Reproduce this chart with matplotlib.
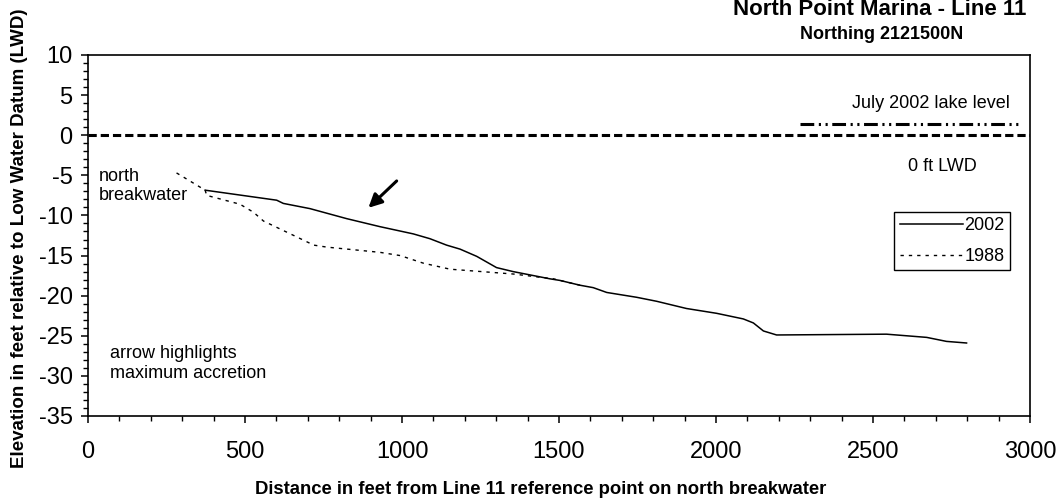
import numpy as np
import matplotlib
matplotlib.use('Agg')
import matplotlib.pyplot as plt
from matplotlib.ticker import MultipleLocator

plt.rcParams['font.family'] = ['Liberation Sans', 'DejaVu Sans']
plt.rcParams['axes.unicode_minus'] = False

# profile surveys (distance ft, elevation ft LWD)
dist_2002 = [373, 601, 622, 707, 824, 930, 1036, 1089, 1142, 1185, 1238, 1301, 1354,
             1471, 1503, 1567, 1609, 1652, 1747, 1811, 1906, 2002, 2087, 2119, 2151,
             2193, 2543, 2671, 2734, 2798]
elev_2002 = [-6.85, -8.1, -8.5, -9.15, -10.4, -11.4, -12.3, -12.9, -13.7, -14.2, -15.1,
             -16.5, -17.0, -17.9, -18.1, -18.7, -19.0, -19.6, -20.2, -20.7, -21.6, -22.2,
             -22.9, -23.4, -24.4, -24.9, -24.8, -25.2, -25.7, -25.9]

dist_1988 = [282, 373, 378, 484, 527, 559, 666, 719, 761, 930, 994, 1068, 1153, 1354,
             1482, 1567]
elev_1988 = [-4.7, -6.85, -7.5, -8.6, -9.6, -10.7, -12.7, -13.7, -13.95, -14.6, -15.0,
             -15.95, -16.7, -17.3, -17.9, -18.7]

lake_level_x = [2268, 2968]
lake_level_y = [1.4, 1.4]
lwd_x = [0, 3000]
lwd_y = [0, 0]

arrow_tail = (983, -5.7)
arrow_tip = (893, -9.05)

fig = plt.figure(figsize=(10.63, 4.98), dpi=100)
ax = fig.add_axes([88/1063, 1-416/498, 942/1063, 361/498])

ax.plot(lwd_x, lwd_y, color='black', lw=2.2, dashes=(2.7, 1.3))
ax.plot(lake_level_x, lake_level_y, color='black', lw=2.2,
        dashes=(4.5, 1.5, 0.7, 1.5, 0.7, 1.5))
ax.plot(dist_2002, elev_2002, color='black', lw=1.1, label='2002')
ax.plot(dist_1988, elev_1988, color='black', lw=1.0, dashes=(2.4, 3.6), label='1988')

ax.annotate('', xy=arrow_tip, xytext=arrow_tail,
            arrowprops=dict(arrowstyle='-|>,head_length=0.8,head_width=0.4',
                            color='black', lw=2.2, shrinkA=0, shrinkB=0))

ax.set_xlim(0, 3000)
ax.set_ylim(-35, 10)
ax.xaxis.set_major_locator(MultipleLocator(500))
ax.xaxis.set_minor_locator(MultipleLocator(100))
ax.yaxis.set_major_locator(MultipleLocator(5))
ax.yaxis.set_minor_locator(MultipleLocator(1))
ax.tick_params(which='major', length=5, width=1.1, labelsize=17, direction='out')
ax.tick_params(which='minor', length=3.5, width=1.0, direction='out')
ax.tick_params(axis='x', which='major', pad=13)
ax.tick_params(axis='y', which='major', pad=6)
for s in ax.spines.values():
    s.set_linewidth(1.2)

ax.text(35, -6.3, 'north\nbreakwater', fontsize=13, ha='left', va='center',
        linespacing=1.15)
ax.text(70, -28.5, 'arrow highlights\nmaximum accretion', fontsize=13, ha='left',
        va='center', linespacing=1.25)
ax.text(2936, 3.9, 'July 2002 lake level', fontsize=13, ha='right', va='center')
ax.text(2720, -3.9, '0 ft LWD', fontsize=13, ha='center', va='center')

leg = ax.legend(loc='upper right', bbox_to_anchor=(0.979, 0.565), borderaxespad=0,
                fontsize=13, handlelength=3.5, handletextpad=0.1, borderpad=0.3,
                labelspacing=0.75, fancybox=False, framealpha=1, edgecolor='black')
leg.get_frame().set_linewidth(1.0)

fig.text(880/1063, 1-15/498, 'North Point Marina - Line 11', fontsize=16,
         fontweight='bold', ha='center', va='baseline')
fig.text(882/1063, 1-39/498, 'Northing 2121500N', fontsize=13,
         fontweight='bold', ha='center', va='baseline')
fig.text(541/1063, 1-489/498,
         'Distance in feet from Line 11 reference point on north breakwater',
         fontsize=13.3, fontweight='bold', ha='center', va='center')
fig.text(20/1063, 1-238/498,
         'Elevation in feet relative to Low Water Datum (LWD)',
         fontsize=13.5, fontweight='bold', ha='center', va='center', rotation=90)

fig.savefig('out.png', dpi=100)
